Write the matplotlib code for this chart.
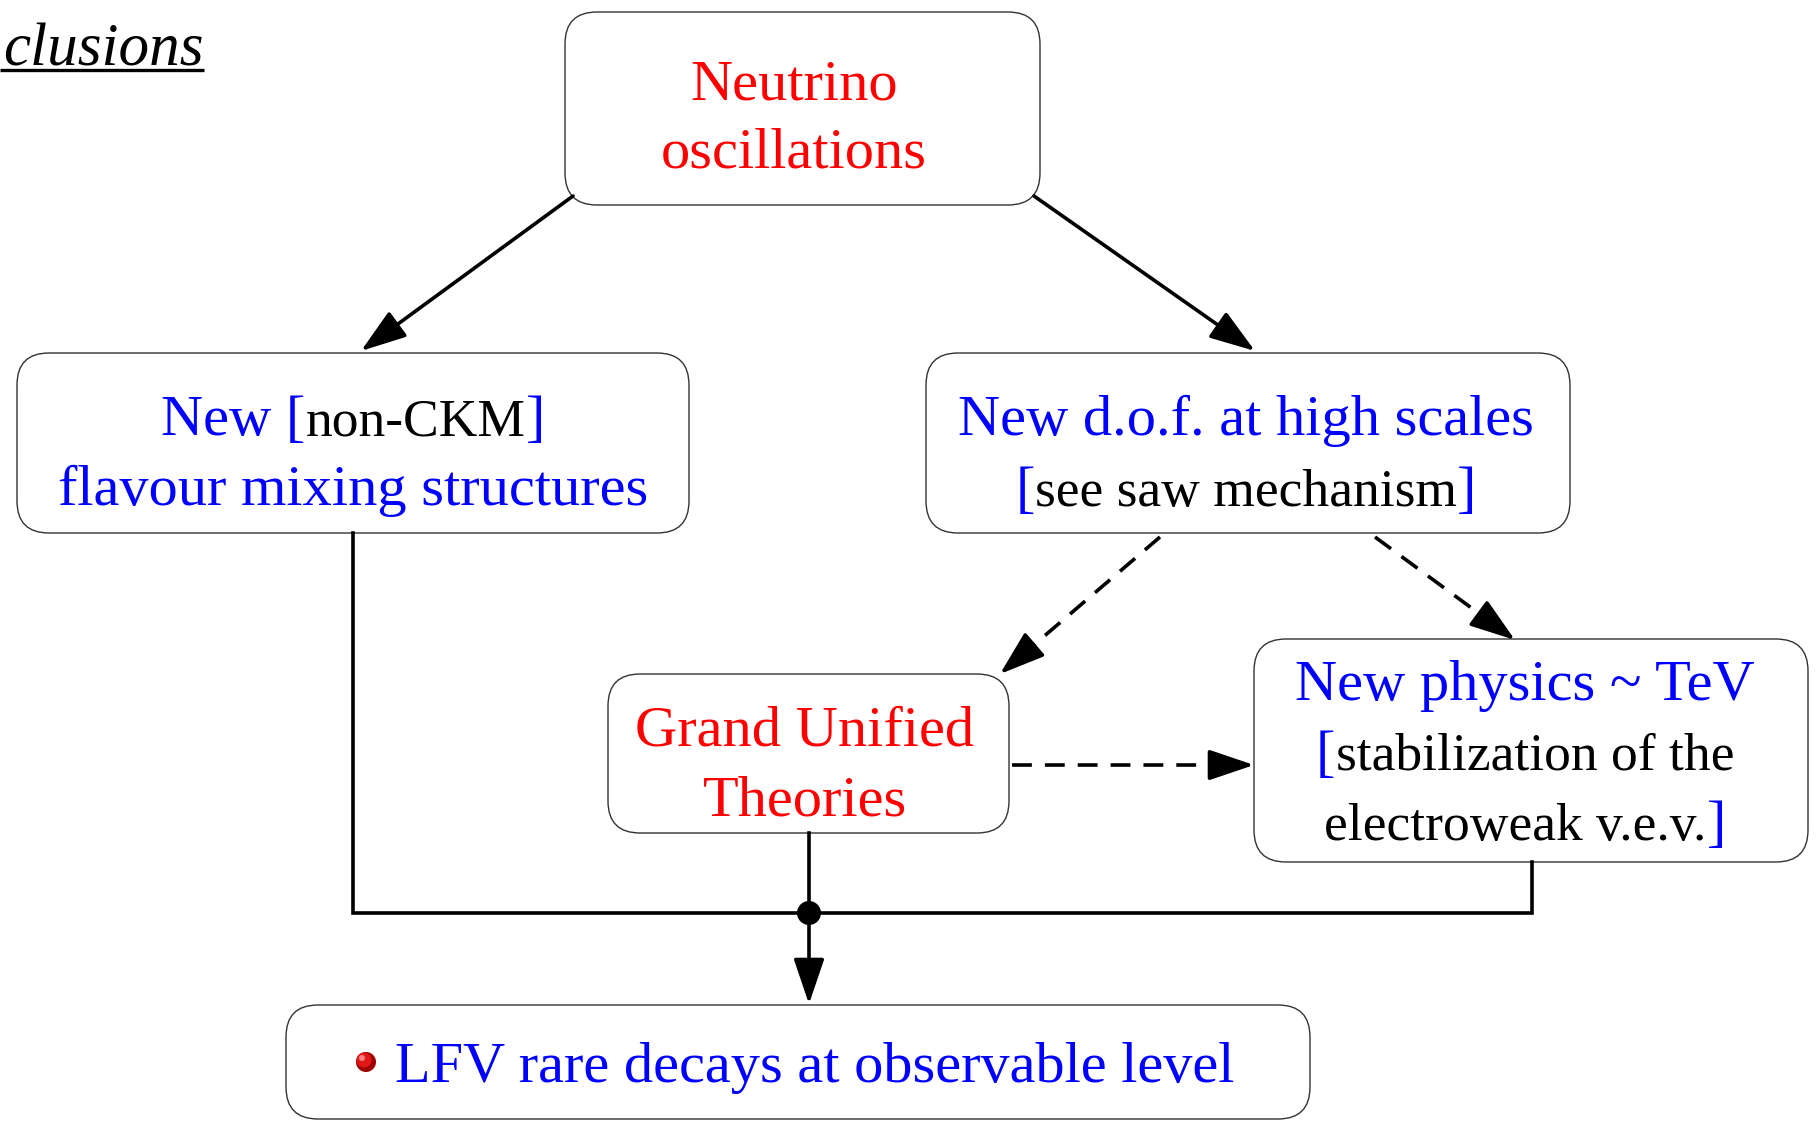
import numpy as np
import matplotlib
matplotlib.use('Agg')
import matplotlib.pyplot as plt
from matplotlib.patches import FancyBboxPatch, Circle

W, H = 1820, 1127
FONT = 'Liberation Serif'
FS = 42          # coloured text
FS_SMALL = 38.5  # black text inside the brackets
BLUE = '#0000ff'
RED = '#ff0000'
BLACK = '#000000'

# boxes: (left, top, right, bottom) in pixels of the picture
box_names = ['neutrino', 'nonckm', 'dof', 'gut', 'newphys', 'lfv']
box_left = [565, 17, 926, 608, 1254, 286]
box_top = [12, 353, 353, 674, 639, 1005]
box_right = [1040, 689, 1570, 1009, 1808, 1310]
box_bottom = [205, 533, 533, 833, 862, 1119]

# text lines: (center x, baseline y, [(text, colour), ...])
text_lines = [
    (794, 99, [('Neutrino', RED)]),
    (794, 168, [('oscillations', RED)]),
    (353, 435, [('New [', BLUE), ('non-CKM', BLACK), (']', BLUE)]),
    (353, 505, [('flavour mixing structures', BLUE)]),
    (1246, 435, [('New d.o.f. at high scales', BLUE)]),
    (1246, 506, [('[', BLUE), ('see saw mechanism', BLACK), (']', BLUE)]),
    (805, 745, [('Grand Unified', RED)]),
    (805, 815, [('Theories', RED)]),
    (1525, 700, [('New physics ~ TeV', BLUE)]),
    (1525, 770, [('[', BLUE), ('stabilization of the', BLACK)]),
    (1525, 840, [('electroweak v.e.v.', BLACK), (']', BLUE)]),
]
lfv_text = 'LFV rare decays at observable level'

# connections
solid_arrows = [((573, 196), (361, 351)), ((1034, 196), (1255, 351)), ((809, 913), (809, 1004))]
dashed_arrows = [((1160, 537), (1000, 674)), ((1375, 537), (1515, 640)), ((1012, 765), (1254, 765))]
solid_paths = [[(353, 533), (353, 913), (1532, 913), (1532, 862)], [(809, 833), (809, 913)]]
junction = (809, 913)

fig = plt.figure(figsize=(W / 100, H / 100), dpi=100)
ax = fig.add_axes([0, 0, 1, 1])
ax.set_xlim(0, W)
ax.set_ylim(H, 0)
ax.axis('off')
renderer = fig.canvas.get_renderer()

for l, t, r, b in zip(box_left, box_top, box_right, box_bottom):
    p = FancyBboxPatch((l, t), r - l, b - t, boxstyle='round,pad=0,rounding_size=32',
                       fc='white', ec='#333333', lw=1.0, zorder=2)
    ax.add_patch(p)


def draw_line(xc, yb, parts):
    texts, widths = [], []
    for s, c in parts:
        fs = FS_SMALL if c == BLACK else FS
        t = ax.text(0, yb, s, color=c, fontsize=fs, family=FONT, ha='left', va='baseline', zorder=5)
        widths.append(t.get_window_extent(renderer).width)
        texts.append(t)
    x = xc - sum(widths) / 2
    for t, w in zip(texts, widths):
        t.set_x(x)
        x += w


for xc, yb, parts in text_lines:
    draw_line(xc, yb, parts)

ax.text(395, 1082, lfv_text, color=BLUE, fontsize=FS, family=FONT, ha='left', va='baseline', zorder=5)
# red bullet
ax.add_patch(Circle((366, 1062), 10, fc='#a00000', ec='none', zorder=5))
ax.add_patch(Circle((364, 1060), 7.5, fc='#e01818', ec='none', zorder=6))
ax.add_patch(Circle((362, 1058), 3, fc='#ff8080', ec='none', zorder=7))

# title, cut at the left edge
ax.text(204, 65, 'clusions', fontsize=44, family=FONT, style='italic', ha='right', va='baseline')
ax.plot([0, 204], [70, 70], color='black', lw=2.4, solid_capstyle='butt')

LW = 2.6
head = dict(arrowstyle='-|>,head_length=0.56,head_width=0.19', mutation_scale=50,
            color='black', lw=LW, shrinkA=0, shrinkB=0)

for path in solid_paths:
    xs, ys = zip(*path)
    ax.plot(xs, ys, color='black', lw=LW, solid_joinstyle='miter', zorder=3)

for (x0, y0), (x1, y1) in solid_arrows:
    ax.annotate('', xy=(x1, y1), xytext=(x0, y0), arrowprops=head, zorder=3)

for (x0, y0), (x1, y1) in dashed_arrows:
    d = np.array([x1 - x0, y1 - y0], dtype=float)
    d /= np.hypot(*d)
    bx, by = x1 - 42 * d[0], y1 - 42 * d[1]
    ax.plot([x0, bx], [y0, by], color='black', lw=LW, ls=(0, (5.5, 3.6)), zorder=3)
    ax.annotate('', xy=(x1, y1), xytext=(bx, by), arrowprops=head, zorder=3)

ax.add_patch(Circle(junction, 12, fc='black', ec='none', zorder=4))

fig.savefig('out.png', dpi=100)
